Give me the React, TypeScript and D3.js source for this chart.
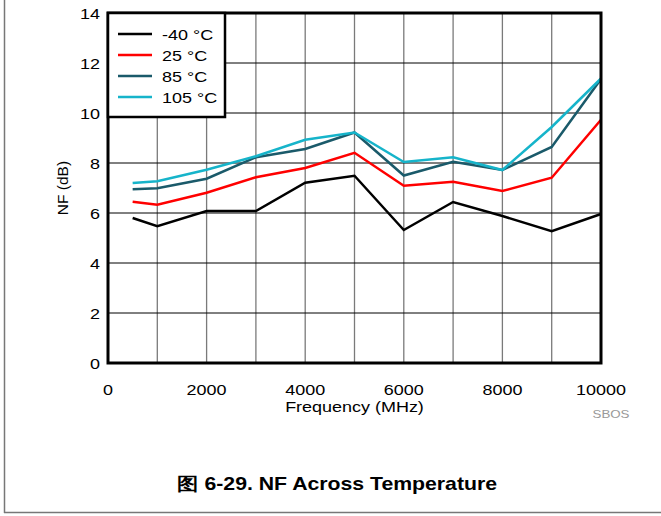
import React from "react";
import * as d3 from "d3";

const freqs = [500, 1000, 2000, 3000, 4000, 5000, 6000, 7000, 8000, 9000, 10000];
const seriesNames = ["-40 °C", "25 °C", "85 °C", "105 °C"];
const seriesColors = ["#000000", "#ff0000", "#1a5a6a", "#16b4ca"];
const nfM40 = [5.8, 5.47, 6.08, 6.08, 7.21, 7.49, 5.32, 6.44, 5.88, 5.27, 5.96];
const nf25 = [6.45, 6.33, 6.81, 7.43, 7.8, 8.41, 7.09, 7.25, 6.88, 7.41, 9.73];
const nf85 = [6.95, 6.99, 7.37, 8.23, 8.56, 9.22, 7.5, 8.05, 7.72, 8.64, 11.36];
const nf105 = [7.2, 7.27, 7.73, 8.27, 8.93, 9.22, 8.04, 8.23, 7.72, 9.44, 11.38];
const xTicks = [0, 2000, 4000, 6000, 8000, 10000];
const xGrid = [1000, 2000, 3000, 4000, 5000, 6000, 7000, 8000, 9000];
const yTicks = [0, 2, 4, 6, 8, 10, 12, 14];

const W = 661;
const H = 516;
const L = 108, R = 601, T = 13, B = 363;
const font = "'Liberation Sans', Arial, sans-serif";
const SX = 1.16;

function Txt(props: {
  x: number;
  y: number;
  anchor?: string;
  size?: number;
  fill?: string;
  bold?: boolean;
  sx?: number;
  children: React.ReactNode;
}) {
  const { x, y, anchor = "start", size = 15.5, fill = "#000", bold = false, sx = SX } = props;
  return (
    <text
      transform={`translate(${x},${y}) scale(${sx},1)`}
      dy="0.36em"
      textAnchor={anchor}
      fontFamily={font}
      fontSize={size}
      fontWeight={bold ? "bold" : "normal"}
      fill={fill}
    >
      {props.children}
    </text>
  );
}

export default function App() {
  const x = d3.scaleLinear().domain([0, 10000]).range([L, R]);
  const y = d3.scaleLinear().domain([0, 14]).range([B, T]);
  const line = d3
    .line<[number, number]>()
    .x((d) => x(d[0]))
    .y((d) => y(d[1]));
  const all = [nfM40, nf25, nf85, nf105];

  return (
    <svg
      width={W}
      height={H}
      style={{ position: "absolute", left: 0, top: 0, background: "#fff" }}
    >
      <rect x={0} y={0} width={W} height={H} fill="#fff" />
      {/* outer frame */}
      <line x1={4.5} y1={0} x2={4.5} y2={513} stroke="#777" strokeWidth={1.5} />
      <line x1={4} y1={512.5} x2={W} y2={512.5} stroke="#777" strokeWidth={1.5} />

      {/* grid */}
      {xGrid.map((v) => (
        <line
          key={"gx" + v}
          x1={x(v)}
          x2={x(v)}
          y1={T}
          y2={B}
          stroke="#7a7a7a"
          strokeWidth={1.3}
        />
      ))}
      {yTicks.slice(1, -1).map((v) => (
        <line
          key={"gy" + v}
          x1={L}
          x2={R}
          y1={y(v)}
          y2={y(v)}
          stroke="#000"
          strokeWidth={1}
        />
      ))}

      {/* series */}
      {all.map((vals, i) => (
        <path
          key={"s" + i}
          d={line(freqs.map((f, j) => [f, vals[j]] as [number, number])) || ""}
          fill="none"
          stroke={seriesColors[i]}
          strokeWidth={2.5}
          strokeLinejoin="miter"
        />
      ))}

      {/* plot border */}
      <rect
        x={L}
        y={T}
        width={R - L}
        height={B - T}
        fill="none"
        stroke="#000"
        strokeWidth={3}
      />

      {/* legend */}
      <rect x={L} y={T} width={117} height={104} fill="#fff" stroke="#000" strokeWidth={2.5} />
      {seriesNames.map((n, i) => (
        <g key={"lg" + i}>
          <line
            x1={118}
            x2={152}
            y1={34 + i * 21}
            y2={34 + i * 21}
            stroke={seriesColors[i]}
            strokeWidth={2.5}
          />
          <Txt x={162} y={34 + i * 21}>
            {n}
          </Txt>
        </g>
      ))}

      {/* y ticks */}
      {yTicks.map((v) => (
        <Txt key={"yt" + v} x={100} y={y(v)} anchor="end">
          {v}
        </Txt>
      ))}
      {/* x ticks */}
      {xTicks.map((v) => (
        <Txt key={"xt" + v} x={x(v)} y={389} anchor="middle">
          {v}
        </Txt>
      ))}

      <Txt x={x(5000)} y={406} anchor="middle">
        Frequency (MHz)
      </Txt>
      <text
        transform={`translate(62,${(T + B) / 2}) rotate(-90)`}
        textAnchor="middle"
        dy="0.36em"
        fontFamily={font}
        fontSize={15.5}
      >
        NF (dB)
      </text>
      <Txt x={611} y={414} anchor="middle" size={11.5} fill="#999">
        SBOS
      </Txt>
      <Txt x={337} y={484} anchor="middle" size={18} bold sx={1.18}>
        图 6-29. NF Across Temperature
      </Txt>
    </svg>
  );
}
